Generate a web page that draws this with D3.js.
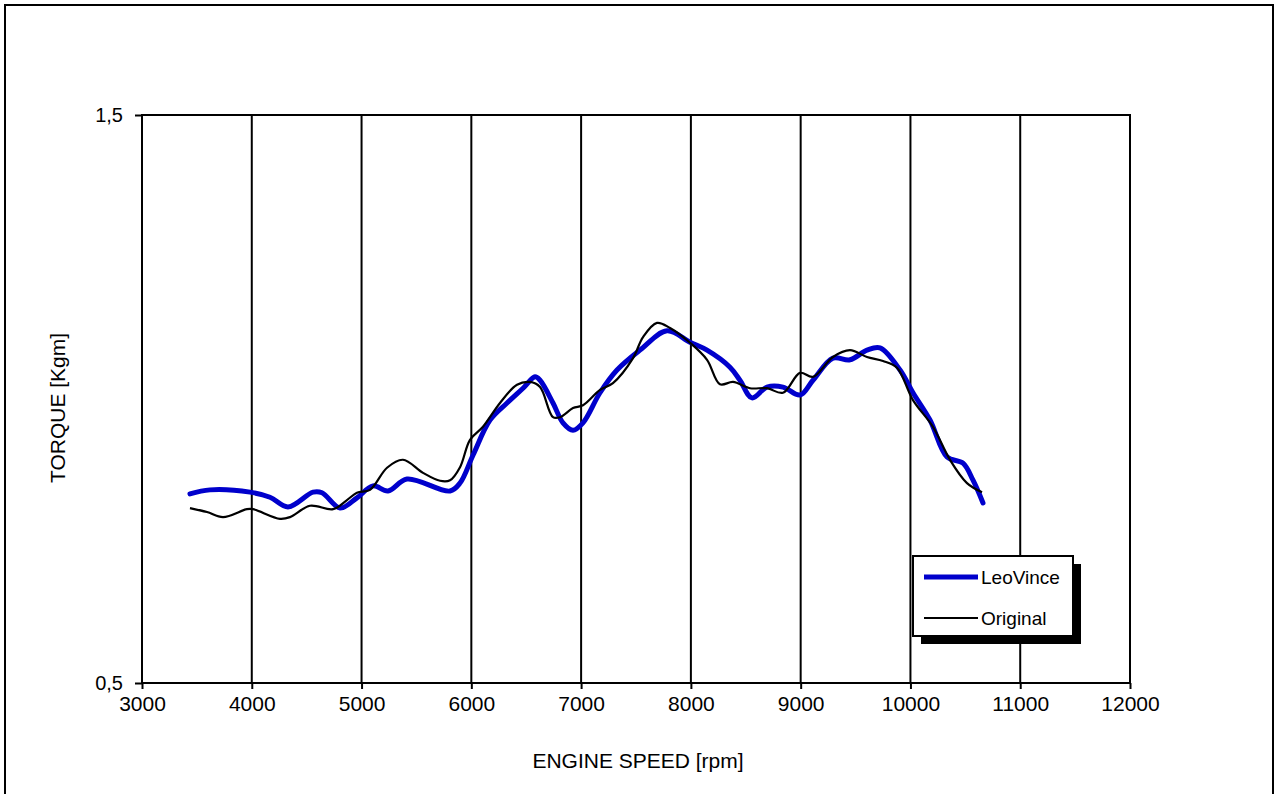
<!DOCTYPE html>
<html>
<head>
<meta charset="utf-8">
<script src="https://cdn.jsdelivr.net/npm/d3@7"></script>
<style>
  body { margin: 0; background: #fff; }
  text { font-family: "Liberation Sans", Arial, sans-serif; }
</style>
</head>
<body>
<div class="parentTorque"></div>
<script>
// engine speed [rpm] and torque [Kgm]
let leoRpm = [3437, 3619, 3984, 4166, 4330, 4558, 4640, 4804, 4958, 5104, 5241, 5414, 5806, 5897,
  6015, 6170, 6325, 6471, 6580, 6626, 6744, 6835, 6926, 7017, 7172, 7327, 7536, 7782, 7992, 8147,
  8356, 8447, 8557, 8693, 8839, 8994, 9112, 9294, 9449, 9604, 9723, 9905, 10023, 10178, 10333,
  10479, 10570, 10661];
let leoTorque = [0.833, 0.840, 0.836, 0.827, 0.810, 0.836, 0.835, 0.808, 0.826, 0.847, 0.838, 0.859,
  0.838, 0.852, 0.901, 0.963, 0.993, 1.019, 1.039, 1.033, 0.993, 0.958, 0.945, 0.958, 1.011, 1.051,
  1.086, 1.120, 1.100, 1.086, 1.056, 1.033, 1.002, 1.021, 1.021, 1.007, 1.033, 1.072, 1.069, 1.086,
  1.090, 1.051, 1.011, 0.963, 0.898, 0.887, 0.857, 0.817];

let origRpm = [3437, 3592, 3738, 3956, 4011, 4257, 4348, 4530, 4740, 4867, 4958, 5077, 5232, 5377,
  5560, 5715, 5806, 5897, 5988, 6106, 6261, 6416, 6534, 6626, 6744, 6808, 6926, 7017, 7172, 7290,
  7473, 7564, 7691, 7810, 7992, 8147, 8265, 8384, 8538, 8693, 8839, 8994, 9112, 9294, 9449, 9604,
  9750, 9877, 10023, 10205, 10360, 10515, 10652];
let origTorque = [0.808, 0.801, 0.792, 0.806, 0.806, 0.789, 0.792, 0.812, 0.806, 0.822, 0.835, 0.840,
  0.879, 0.893, 0.870, 0.856, 0.857, 0.880, 0.928, 0.951, 0.993, 1.025, 1.030, 1.021, 0.968, 0.968,
  0.984, 0.989, 1.016, 1.028, 1.072, 1.109, 1.134, 1.125, 1.099, 1.069, 1.026, 1.030, 1.019, 1.019,
  1.011, 1.046, 1.039, 1.074, 1.086, 1.074, 1.067, 1.055, 0.998, 0.951, 0.893, 0.852, 0.836];

let xTicks = [3000, 4000, 5000, 6000, 7000, 8000, 9000, 10000, 11000, 12000];
let yTicks = [0.5, 1.5];
let seriesNames = ["LeoVince", "Original"];
let seriesColors = ["#0000cc", "#000000"];

let width = 1276;
let height = 794;
let plot = { left: 142, top: 115, right: 1130, bottom: 683 };

let svg = d3
  .select(".parentTorque")
  .append("svg")
  .attr("width", width)
  .attr("height", height);

// outer frame of the sheet
svg
  .append("rect")
  .attr("x", 5)
  .attr("y", 5)
  .attr("width", 1268)
  .attr("height", 820)
  .style("fill", "#fff")
  .style("stroke", "#000")
  .style("stroke-width", 2);

let x = d3.scaleLinear().domain([3000, 12000]).range([plot.left, plot.right]);
let y = d3.scaleLinear().domain([0.5, 1.5]).range([plot.bottom, plot.top]);

// vertical grid lines
svg
  .append("g")
  .selectAll("line")
  .data(xTicks.slice(1, -1))
  .enter()
  .append("line")
  .attr("x1", (d) => x(d))
  .attr("x2", (d) => x(d))
  .attr("y1", plot.top)
  .attr("y2", plot.bottom)
  .style("stroke", "#000")
  .style("stroke-width", 2);

// plot border
svg
  .append("rect")
  .attr("x", plot.left)
  .attr("y", plot.top)
  .attr("width", plot.right - plot.left)
  .attr("height", plot.bottom - plot.top)
  .style("fill", "none")
  .style("stroke", "#000")
  .style("stroke-width", 2);

// axes
let xAxis = svg
  .append("g")
  .attr("transform", "translate(0," + plot.bottom + ")")
  .call(d3.axisBottom(x).tickValues(xTicks).tickFormat(d3.format("d")).tickSize(6).tickPadding(7));

let yAxis = svg
  .append("g")
  .attr("transform", "translate(" + plot.left + ",0)")
  .call(
    d3.axisLeft(y).tickValues(yTicks).tickSize(7).tickPadding(12)
      .tickFormat((d) => d3.format(".1f")(d).replace(".", ","))
  );

[xAxis, yAxis].forEach((g, i) => {
  g.select(".domain").remove();
  g.selectAll("line").style("stroke", "#000").style("stroke-width", 2);
  g.selectAll("text").style("font-size", i === 0 ? "21px" : "20px").style("fill", "#000")
    .style("font-family", '"Liberation Sans", Arial, sans-serif');
});

// axis titles
svg
  .append("text")
  .attr("x", 638)
  .attr("y", 768)
  .attr("text-anchor", "middle")
  .style("font-size", "21px")
  .text("ENGINE SPEED [rpm]");

svg
  .append("text")
  .attr("transform", "translate(65,408) rotate(-90)")
  .attr("text-anchor", "middle")
  .style("font-size", "21px")
  .text("TORQUE [Kgm]");

// curves
let line = d3
  .line()
  .x((d) => x(d[0]))
  .y((d) => y(d[1]))
  .curve(d3.curveCatmullRom.alpha(0.5));

let orig = d3.zip(origRpm, origTorque);
let leo = d3.zip(leoRpm, leoTorque);

svg
  .append("path")
  .datum(leo)
  .attr("d", line)
  .style("fill", "none")
  .style("stroke", seriesColors[0])
  .style("stroke-width", 5)
  .style("stroke-linejoin", "round")
  .style("stroke-linecap", "round");

svg
  .append("path")
  .datum(orig)
  .attr("d", line)
  .style("fill", "none")
  .style("stroke", seriesColors[1])
  .style("stroke-width", 2.2)
  .style("stroke-linejoin", "round");

// legend with drop shadow
let legend = svg.append("g").attr("transform", "translate(913,556)");

legend
  .append("rect")
  .attr("x", 8)
  .attr("y", 8)
  .attr("width", 160)
  .attr("height", 80)
  .style("fill", "#000");

legend
  .append("rect")
  .attr("width", 160)
  .attr("height", 80)
  .style("fill", "#fff")
  .style("stroke", "#000")
  .style("stroke-width", 2);

let rows = legend
  .selectAll("g.row")
  .data(seriesNames)
  .enter()
  .append("g")
  .attr("class", "row")
  .attr("transform", (d, i) => "translate(0," + (21 + i * 41) + ")");

rows
  .append("line")
  .attr("x1", 11)
  .attr("x2", 65)
  .style("stroke", (d, i) => seriesColors[i])
  .style("stroke-width", (d, i) => (i === 0 ? 5 : 2));

rows
  .append("text")
  .attr("x", 68)
  .attr("dy", "0.35em")
  .style("font-size", "19px")
  .text((d) => d);
</script>
</body>
</html>
